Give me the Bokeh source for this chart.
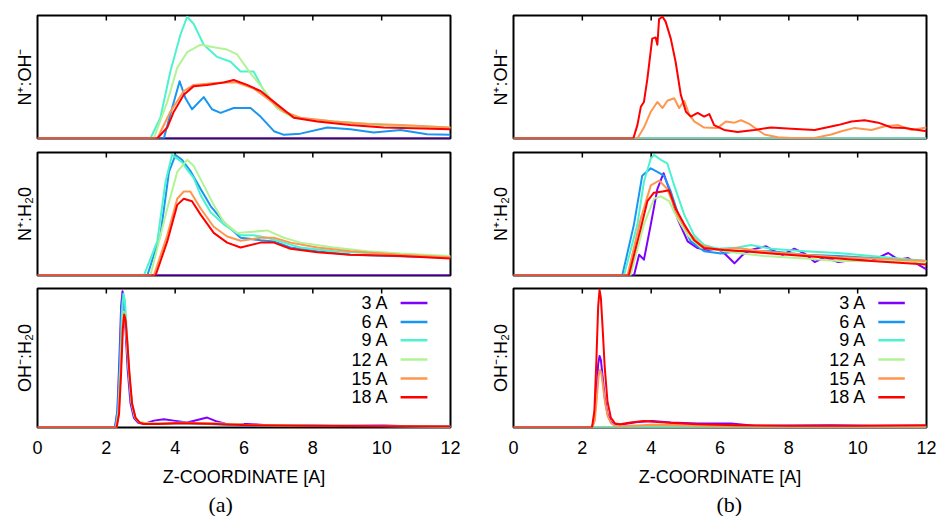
from bokeh.plotting import figure
from bokeh.layouts import column, row
from bokeh.models import Range1d, LinearAxis, FixedTicker, Label, ColumnDataSource, Title
from bokeh.embed import file_html
from bokeh.resources import INLINE

SIZES = ["3 A", "6 A", "9 A", "12 A", "15 A", "18 A"]
COLORS = ["#8000ff", "#1996f3", "#4df3ce", "#b2f396", "#ff964f", "#ff0000"]
X_TICKS = [0, 2, 4, 6, 8, 10, 12]
YLABELS = ["N\u207a:OH\u207b", "N\u207a:H\u20820", "OH\u207b:H\u20820"]
XLABEL = "Z-COORDINATE [A]"
CAPTIONS = ["(a)", "(b)"]

ZERO_X = [0, 12]
ZERO_Y = [0, 0]

# ---------------- (a) N+:OH- ----------------
TL_X_6 = [0, 3.67, 3.86, 4.13, 4.30, 4.49, 4.83, 5.07, 5.32, 5.70, 6.19, 6.48, 6.87, 7.16, 7.64, 8.42, 9.09, 9.77, 10.55, 11.32, 12.0]
TL_Y_6 = [0, 0, 0.20, 0.47, 0.33, 0.24, 0.34, 0.24, 0.21, 0.25, 0.25, 0.18, 0.06, 0.03, 0.04, 0.09, 0.075, 0.05, 0.07, 0.035, 0.03]
TL_X_9 = [0, 3.28, 3.57, 3.86, 4.15, 4.35, 4.54, 4.83, 5.22, 5.61, 5.90, 6.28, 6.58, 6.96, 7.45, 8.61, 10.0, 12.0]
TL_Y_9 = [0, 0, 0.17, 0.55, 0.85, 1.0, 0.94, 0.77, 0.67, 0.63, 0.55, 0.55, 0.39, 0.25, 0.17, 0.14, 0.11, 0.087]
TL_X_12 = [0, 3.38, 3.77, 4.06, 4.35, 4.74, 5.12, 5.51, 5.80, 6.19, 6.58, 6.96, 7.45, 8.61, 10.0, 12.0]
TL_Y_12 = [0, 0, 0.30, 0.58, 0.71, 0.77, 0.75, 0.73, 0.69, 0.535, 0.40, 0.25, 0.17, 0.14, 0.115, 0.09]
TL_X_15 = [0, 3.48, 3.86, 4.25, 4.54, 4.93, 5.41, 5.80, 6.28, 6.67, 7.16, 7.64, 8.61, 9.58, 10.55, 12.0]
TL_Y_15 = [0, 0, 0.22, 0.39, 0.44, 0.45, 0.46, 0.46, 0.41, 0.33, 0.22, 0.17, 0.14, 0.12, 0.11, 0.09]
TL_X_18 = [0, 3.48, 3.77, 3.96, 4.25, 4.54, 4.93, 5.41, 5.70, 6.09, 6.48, 6.96, 7.45, 8.13, 9.09, 10.06, 12.0]
TL_Y_18 = [0, 0, 0.09, 0.22, 0.36, 0.43, 0.44, 0.46, 0.48, 0.44, 0.39, 0.28, 0.17, 0.14, 0.11, 0.09, 0.075]

# ---------------- (a) N+:H2O ----------------
ML_X_6 = [0, 3.19, 3.57, 3.82, 4.01, 4.20, 4.44, 4.74, 5.03, 5.41, 5.90, 6.48, 6.87, 7.35, 8.13, 9.09, 12.0]
ML_Y_6 = [0, 0, 0.33, 0.85, 0.99, 0.95, 0.86, 0.71, 0.57, 0.44, 0.31, 0.29, 0.28, 0.23, 0.20, 0.17, 0.145]
ML_X_9 = [0, 3.09, 3.48, 3.72, 3.91, 4.06, 4.20, 4.35, 4.54, 4.74, 5.03, 5.41, 5.90, 6.28, 6.67, 7.16, 7.64, 8.61, 9.58, 10.55, 12.0]
ML_Y_9 = [0, 0, 0.28, 0.77, 0.99, 0.96, 0.93, 0.87, 0.80, 0.66, 0.52, 0.42, 0.33, 0.33, 0.31, 0.27, 0.23, 0.20, 0.185, 0.17, 0.15]
ML_X_12 = [0, 3.28, 3.77, 4.06, 4.35, 4.54, 4.83, 5.12, 5.41, 5.80, 6.28, 6.67, 7.16, 7.64, 8.61, 9.58, 10.55, 12.0]
ML_Y_12 = [0, 0, 0.55, 0.85, 0.95, 0.90, 0.74, 0.58, 0.44, 0.35, 0.36, 0.37, 0.31, 0.27, 0.23, 0.20, 0.18, 0.16]
ML_X_15 = [0, 3.38, 3.77, 4.06, 4.25, 4.44, 4.74, 5.12, 5.51, 5.90, 6.48, 6.87, 7.35, 8.13, 9.09, 10.55, 12.0]
ML_Y_15 = [0, 0, 0.33, 0.63, 0.69, 0.69, 0.55, 0.40, 0.32, 0.285, 0.31, 0.31, 0.27, 0.23, 0.20, 0.17, 0.15]
ML_X_18 = [0, 3.43, 3.77, 4.06, 4.25, 4.49, 4.74, 5.12, 5.51, 5.90, 6.48, 6.87, 7.35, 8.13, 9.09, 10.55, 12.0]
ML_Y_18 = [0, 0, 0.28, 0.58, 0.63, 0.61, 0.50, 0.35, 0.27, 0.23, 0.27, 0.27, 0.22, 0.19, 0.17, 0.16, 0.14]

# ---------------- (a) OH-:H2O ----------------
BL_X_3 = [0, 2.25, 2.32, 2.38, 2.43, 2.47, 2.51, 2.56, 2.62, 2.70, 2.80, 2.92, 3.10, 3.38, 3.67, 3.96, 4.35, 4.64, 4.93, 5.22, 5.51, 6.09, 6.67, 7.64, 8.61, 10.06, 10.55, 12.0]
BL_Y_3 = [0, 0, 0.12, 0.50, 0.88, 0.99, 0.93, 0.70, 0.42, 0.18, 0.07, 0.035, 0.026, 0.05, 0.06, 0.05, 0.036, 0.055, 0.072, 0.043, 0.024, 0.026, 0.017, 0.017, 0.012, 0.015, 0.01, 0.007]
BL_X_6 = [0, 2.26, 2.33, 2.39, 2.44, 2.48, 2.52, 2.57, 2.63, 2.71, 2.81, 2.93, 3.10, 3.6, 4.2, 5.0, 6.0, 8.0, 10.0, 12.0]
BL_Y_6 = [0, 0, 0.12, 0.48, 0.85, 0.97, 0.92, 0.72, 0.45, 0.20, 0.08, 0.04, 0.03, 0.025, 0.03, 0.025, 0.015, 0.01, 0.008, 0.006]
BL_X_9 = [0, 2.28, 2.35, 2.41, 2.46, 2.50, 2.54, 2.59, 2.65, 2.73, 2.83, 2.95, 3.10, 3.6, 4.2, 5.0, 6.0, 8.0, 10.0, 12.0]
BL_Y_9 = [0, 0, 0.12, 0.48, 0.85, 0.97, 0.92, 0.72, 0.45, 0.20, 0.08, 0.04, 0.035, 0.03, 0.035, 0.03, 0.02, 0.012, 0.01, 0.006]
BL_X_12 = [0, 2.29, 2.36, 2.42, 2.47, 2.51, 2.55, 2.60, 2.66, 2.74, 2.84, 2.96, 3.10, 3.6, 4.2, 5.0, 6.0, 8.0, 10.0, 12.0]
BL_Y_12 = [0, 0, 0.10, 0.42, 0.74, 0.84, 0.80, 0.63, 0.40, 0.18, 0.07, 0.04, 0.035, 0.03, 0.035, 0.03, 0.02, 0.012, 0.01, 0.006]
BL_X_15 = [0, 2.29, 2.36, 2.42, 2.47, 2.51, 2.55, 2.60, 2.66, 2.74, 2.84, 2.96, 3.10, 3.6, 4.2, 5.0, 6.0, 8.0, 10.0, 12.0]
BL_Y_15 = [0, 0, 0.10, 0.41, 0.73, 0.83, 0.79, 0.62, 0.39, 0.17, 0.07, 0.035, 0.03, 0.028, 0.032, 0.03, 0.02, 0.012, 0.01, 0.006]
BL_X_18 = [0, 2.30, 2.37, 2.43, 2.48, 2.52, 2.56, 2.61, 2.67, 2.75, 2.85, 2.97, 3.10, 3.5, 4.0, 4.35, 5.2, 6.1, 7.6, 9.0, 12.0]
BL_Y_18 = [0, 0, 0.10, 0.40, 0.72, 0.82, 0.78, 0.62, 0.40, 0.17, 0.07, 0.035, 0.026, 0.026, 0.03, 0.031, 0.026, 0.017, 0.012, 0.01, 0.007]

# ---------------- (b) N+:OH- ----------------
TR_X_15 = [0, 3.60, 3.79, 3.99, 4.18, 4.33, 4.47, 4.67, 4.81, 4.96, 5.10, 5.25, 5.54, 5.93, 6.17, 6.42, 6.61, 6.85, 7.10, 7.29, 7.68, 8.07, 8.75, 9.23, 9.53, 9.91, 10.40, 10.79, 11.18, 11.57, 12.0]
TR_Y_15 = [0, 0, 0.09, 0.22, 0.30, 0.25, 0.31, 0.33, 0.25, 0.31, 0.20, 0.14, 0.09, 0.087, 0.14, 0.13, 0.15, 0.12, 0.07, 0.033, 0.01, 0.005, 0.005, 0.033, 0.06, 0.087, 0.07, 0.10, 0.11, 0.07, 0.09]
TR_X_18 = [0, 3.48, 3.60, 3.70, 3.79, 3.89, 4.03, 4.13, 4.18, 4.23, 4.33, 4.42, 4.57, 4.71, 4.86, 5.01, 5.15, 5.35, 5.54, 5.69, 5.83, 6.12, 6.51, 7.00, 7.48, 8.07, 8.75, 9.43, 9.82, 10.20, 10.60, 10.98, 11.37, 12.0]
TR_Y_18 = [0, 0, 0.11, 0.26, 0.30, 0.49, 0.82, 0.83, 0.77, 0.98, 1.0, 0.96, 0.82, 0.63, 0.36, 0.22, 0.18, 0.21, 0.18, 0.20, 0.11, 0.07, 0.054, 0.07, 0.09, 0.08, 0.07, 0.11, 0.14, 0.15, 0.13, 0.09, 0.087, 0.06]

# ---------------- (b) N+:H2O ----------------
MR_X_3 = [0, 3.50, 3.65, 3.79, 3.99, 4.18, 4.36, 4.52, 4.76, 5.06, 5.35, 5.64, 5.93, 6.17, 6.42, 6.66, 6.90, 7.10, 7.34, 7.58, 7.82, 8.16, 8.46, 8.75, 9.04, 9.43, 9.91, 10.40, 10.89, 11.18, 11.47, 11.76, 12.0]
MR_Y_3 = [0, 0, 0.17, 0.13, 0.42, 0.71, 0.84, 0.71, 0.47, 0.28, 0.225, 0.21, 0.22, 0.17, 0.10, 0.17, 0.21, 0.225, 0.24, 0.20, 0.17, 0.22, 0.18, 0.11, 0.15, 0.11, 0.13, 0.12, 0.185, 0.13, 0.144, 0.09, 0.05]
MR_X_6 = [0, 3.16, 3.50, 3.74, 3.99, 4.18, 4.37, 4.57, 4.86, 5.15, 5.54, 6.03, 6.51, 7.48, 8.46, 9.43, 10.40, 12.0]
MR_Y_6 = [0, 0, 0.42, 0.82, 0.88, 0.85, 0.82, 0.69, 0.44, 0.28, 0.20, 0.18, 0.20, 0.20, 0.17, 0.16, 0.144, 0.12]
MR_X_9 = [0, 3.21, 3.60, 3.79, 3.99, 4.08, 4.28, 4.47, 4.67, 4.96, 5.25, 5.54, 5.93, 6.51, 6.90, 7.48, 8.46, 9.43, 10.40, 12.0]
MR_Y_9 = [0, 0, 0.42, 0.77, 0.96, 0.99, 0.95, 0.92, 0.74, 0.50, 0.33, 0.25, 0.22, 0.23, 0.25, 0.22, 0.20, 0.185, 0.16, 0.12]
MR_X_12 = [0, 3.40, 3.79, 4.08, 4.28, 4.52, 4.76, 5.06, 5.45, 5.93, 6.51, 7.29, 8.46, 9.43, 10.40, 12.0]
MR_Y_12 = [0, 0, 0.42, 0.63, 0.65, 0.61, 0.47, 0.33, 0.23, 0.21, 0.185, 0.16, 0.14, 0.12, 0.12, 0.11]
MR_X_15 = [0, 3.31, 3.70, 3.99, 4.23, 4.47, 4.76, 5.06, 5.45, 5.93, 6.51, 7.48, 8.46, 9.43, 10.40, 12.0]
MR_Y_15 = [0, 0, 0.47, 0.74, 0.78, 0.71, 0.50, 0.36, 0.25, 0.21, 0.225, 0.19, 0.17, 0.15, 0.14, 0.12]
MR_X_18 = [0, 3.35, 3.70, 3.89, 4.08, 4.33, 4.52, 4.71, 4.96, 5.25, 5.54, 6.12, 6.71, 7.48, 8.46, 9.43, 10.40, 12.0]
MR_Y_18 = [0, 0, 0.39, 0.61, 0.68, 0.69, 0.70, 0.55, 0.42, 0.29, 0.225, 0.21, 0.20, 0.18, 0.16, 0.14, 0.12, 0.09]

# ---------------- (b) OH-:H2O ----------------
BR_X_3 = [0, 2.28, 2.35, 2.41, 2.46, 2.50, 2.54, 2.59, 2.65, 2.73, 2.83, 2.95, 3.10, 3.60, 4.03, 4.57, 5.35, 6.32, 7.0, 9.23, 10.4, 12.0]
BR_Y_3 = [0, 0, 0.06, 0.26, 0.46, 0.52, 0.49, 0.37, 0.22, 0.10, 0.04, 0.02, 0.02, 0.04, 0.048, 0.036, 0.029, 0.029, 0.012, 0.017, 0.012, 0.012]
BR_X_15 = [0, 2.29, 2.36, 2.42, 2.47, 2.51, 2.55, 2.60, 2.66, 2.74, 2.84, 2.96, 3.10, 3.6, 4.0, 4.6, 5.5, 7.0, 9.0, 12.0]
BR_Y_15 = [0, 0, 0.05, 0.21, 0.37, 0.42, 0.40, 0.30, 0.18, 0.08, 0.03, 0.012, 0.01, 0.015, 0.02, 0.018, 0.012, 0.008, 0.006, 0.005]
BR_X_18 = [0, 2.28, 2.35, 2.41, 2.46, 2.50, 2.54, 2.59, 2.65, 2.73, 2.83, 2.95, 3.10, 3.40, 3.79, 4.18, 4.76, 5.35, 6.5, 8.0, 10.0, 12.0]
BR_Y_18 = [0, 0, 0.12, 0.50, 0.88, 1.0, 0.94, 0.72, 0.44, 0.19, 0.07, 0.03, 0.024, 0.036, 0.048, 0.04, 0.031, 0.024, 0.017, 0.012, 0.012, 0.017]

PANELS = [
    [  # column (a)
        [(ZERO_X, ZERO_Y), (TL_X_6, TL_Y_6), (TL_X_9, TL_Y_9), (TL_X_12, TL_Y_12), (TL_X_15, TL_Y_15), (TL_X_18, TL_Y_18)],
        [(ZERO_X, ZERO_Y), (ML_X_6, ML_Y_6), (ML_X_9, ML_Y_9), (ML_X_12, ML_Y_12), (ML_X_15, ML_Y_15), (ML_X_18, ML_Y_18)],
        [(BL_X_3, BL_Y_3), (BL_X_6, BL_Y_6), (BL_X_9, BL_Y_9), (BL_X_12, BL_Y_12), (BL_X_15, BL_Y_15), (BL_X_18, BL_Y_18)],
    ],
    [  # column (b)
        [(ZERO_X, ZERO_Y), (ZERO_X, ZERO_Y), (ZERO_X, ZERO_Y), (ZERO_X, ZERO_Y), (TR_X_15, TR_Y_15), (TR_X_18, TR_Y_18)],
        [(MR_X_3, MR_Y_3), (MR_X_6, MR_Y_6), (MR_X_9, MR_Y_9), (MR_X_12, MR_Y_12), (MR_X_15, MR_Y_15), (MR_X_18, MR_Y_18)],
        [(BR_X_3, BR_Y_3), (ZERO_X, ZERO_Y), (ZERO_X, ZERO_Y), (ZERO_X, ZERO_Y), (BR_X_15, BR_Y_15), (BR_X_18, BR_Y_18)],
    ],
]

FONT = "Liberation Sans"
SERIF = "Liberation Serif"
Y0, Y1 = 0.0, 1.01

COL_GEOM = [dict(width=481, left=37, right=31), dict(width=456, left=32, right=11)]
ROW_GEOM = [dict(height=145, top=15, bottom=7), dict(height=136, top=7, bottom=6), dict(height=235, top=7, bottom=88)]

LEGEND_TEXT_X = [10.2, 10.25]
LEGEND_LINE_X = [(10.55, 11.33), (10.6, 11.37)]
LEGEND_ROW_Y = [0.905, 0.767, 0.634, 0.494, 0.356, 0.22]
CAPTION_OFFSET = [171, 203]


def make_panel(ci, ri):
    cg, rg = COL_GEOM[ci], ROW_GEOM[ri]
    frame_h = rg["height"] - rg["top"] - rg["bottom"]
    ppu = frame_h / (Y1 - Y0)
    p = figure(width=cg["width"], height=rg["height"],
               x_range=Range1d(0, 12), y_range=Range1d(Y0, Y1),
               x_axis_location=None, y_axis_location=None,
               min_border_left=cg["left"], min_border_right=cg["right"],
               min_border_top=rg["top"], min_border_bottom=rg["bottom"],
               output_backend="svg", toolbar_location=None)
    p.grid.visible = False
    p.outline_line_color = "black"
    p.outline_line_width = 2
    p.background_fill_color = "white"
    p.border_fill_color = "white"

    left = LinearAxis(ticker=FixedTicker(ticks=[]), axis_line_color=None,
                      major_tick_line_color=None, minor_tick_line_color=None,
                      major_label_standoff=0,
                      axis_label=YLABELS[ri], axis_label_standoff=3,
                      axis_label_text_font=FONT, axis_label_text_font_size="18px",
                      axis_label_text_font_style="normal", axis_label_text_color="black")
    p.add_layout(left, "left")

    if ri == 2:
        bot = LinearAxis(ticker=FixedTicker(ticks=X_TICKS), major_tick_in=0, major_tick_out=0,
                         minor_tick_line_color=None, axis_line_color=None,
                         major_label_standoff=13, major_label_text_font=FONT,
                         major_label_text_font_size="18px", major_label_text_color="black",
                         axis_label=XLABEL, axis_label_standoff=10,
                         axis_label_text_font=FONT, axis_label_text_font_size="18px",
                         axis_label_text_font_style="normal", axis_label_text_color="black")
        p.add_layout(bot, "below")
        cap = Title(text=CAPTIONS[ci], align="left", offset=CAPTION_OFFSET[ci], standoff=0,
                    text_font=SERIF, text_font_size="22px", text_font_style="normal",
                    text_color="black")
        p.add_layout(cap, "below")

    # inward tick marks along the top edge
    inner = X_TICKS[1:-1]
    tick_len = 5 / ppu
    p.segment(x0=inner, x1=inner, y0=[Y1] * len(inner), y1=[Y1 - tick_len] * len(inner),
              line_color="black", line_width=1.5)

    for si, (xs, ys) in enumerate(PANELS[ci][ri]):
        p.line(xs, ys, line_color=COLORS[si], line_width=2, line_join="round")

    if ri == 2:
        lx0, lx1 = LEGEND_LINE_X[ci]
        src = ColumnDataSource(dict(x0=[lx0] * 6, x1=[lx1] * 6, y=LEGEND_ROW_Y, c=COLORS))
        p.segment(x0="x0", x1="x1", y0="y", y1="y", line_color="c", line_width=2.5, source=src)
        for name, yy in zip(SIZES, LEGEND_ROW_Y):
            p.add_layout(Label(x=LEGEND_TEXT_X[ci], y=yy, text=name, text_align="right",
                               text_baseline="middle", text_font=FONT, text_font_size="18px",
                               text_color="black"))
    return p


rows = [row(make_panel(0, r), make_panel(1, r)) for r in range(3)]
layout = column(*rows)

open("out.html", "w").write(file_html(layout, INLINE))
